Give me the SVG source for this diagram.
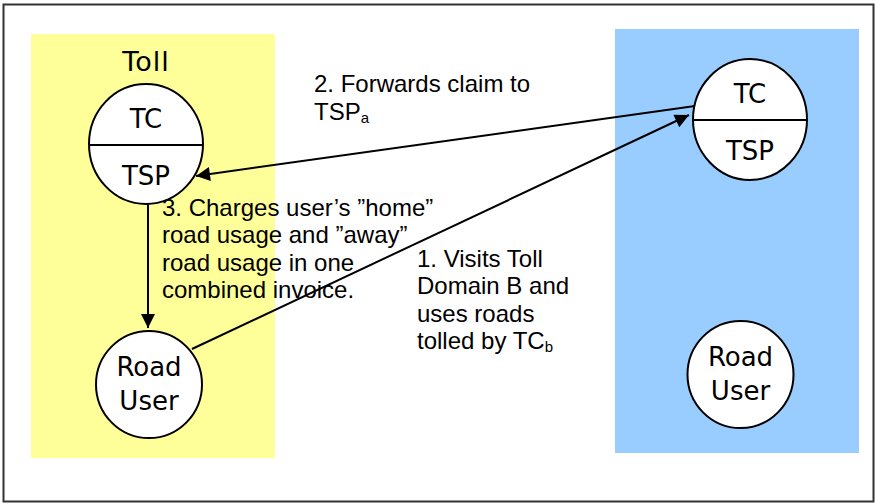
<svg xmlns="http://www.w3.org/2000/svg" width="875" height="504" viewBox="0 0 875 504">
  <style>
    .node { fill: #ffffff; stroke: #000000; stroke-width: 2; }
    .divider { stroke: #000000; stroke-width: 2; }
    .ntext { font-family: "DejaVu Sans", Verdana, sans-serif; font-size: 26px; fill: #000000; text-anchor: middle; }
    .title { font-size: 27px; letter-spacing: 1px; }
    .label { font-family: "Liberation Sans", Arial, sans-serif; font-size: 24px; fill: #000000; }
    .sub { font-size: 15px; }
    .edge { stroke: #000000; stroke-width: 2; fill: none; marker-end: url(#arrow); }
  </style>
  <defs>
    <marker id="arrow" viewBox="0 0 10 10" refX="10" refY="5" markerWidth="8" markerHeight="7" markerUnits="strokeWidth" orient="auto">
      <path d="M0,0 L10,5 L0,10 Z" fill="#000000"/>
    </marker>
  </defs>

  <!-- frame and domain backgrounds -->
  <rect x="3.5" y="4.5" width="870" height="497" fill="#ffffff" stroke="#333333" stroke-width="2"/>
  <rect x="31" y="34" width="244" height="424" fill="#ffff99"/>
  <rect x="615" y="29" width="244" height="424" fill="#99ccff"/>

  <text class="ntext title" x="146" y="71">Toll</text>

  <!-- connectors -->
  <g id="connectors">
    <line class="edge" x1="695" y1="106" x2="196" y2="176"/>
    <line class="edge" x1="192" y1="349" x2="689" y2="115"/>
    <line class="edge" x1="148" y1="204" x2="148" y2="328"/>
  </g>

  <!-- home domain nodes -->
  <g id="home-tc-tsp">
    <ellipse class="node" cx="146" cy="144" rx="57" ry="60"/>
    <line class="divider" x1="89" y1="145" x2="203" y2="145"/>
    <text class="ntext" x="146" y="128">TC</text>
    <text class="ntext" x="146" y="185">TSP</text>
  </g>
  <g id="home-road-user">
    <ellipse class="node" cx="149" cy="384.5" rx="53" ry="53.5"/>
    <text class="ntext" x="149" y="376">Road</text>
    <text class="ntext" x="149" y="410">User</text>
  </g>

  <!-- visited domain nodes -->
  <g id="away-tc-tsp">
    <ellipse class="node" cx="750" cy="119.5" rx="57" ry="60.5"/>
    <line class="divider" x1="693" y1="120" x2="807" y2="120"/>
    <text class="ntext" x="750" y="103">TC</text>
    <text class="ntext" x="750" y="160">TSP</text>
  </g>
  <g id="away-road-user">
    <ellipse class="node" cx="740.5" cy="374.5" rx="53" ry="53.5"/>
    <text class="ntext" x="740.5" y="366">Road</text>
    <text class="ntext" x="740.5" y="400">User</text>
  </g>

  <!-- step labels -->
  <g id="label-2">
    <text class="label" x="314" y="92">2. Forwards claim to</text>
    <text class="label" x="314" y="120">TSP<tspan class="sub" dy="3">a</tspan></text>
  </g>
  <g id="label-3">
    <text class="label" x="162" y="216">3. Charges user’s ”home”</text>
    <text class="label" x="162" y="243">road usage and ”away”</text>
    <text class="label" x="162" y="271">road usage in one</text>
    <text class="label" x="162" y="298">combined invoice.</text>
  </g>
  <g id="label-1">
    <text class="label" x="417" y="267">1. Visits Toll</text>
    <text class="label" x="417" y="294">Domain B and</text>
    <text class="label" x="417" y="322">uses roads</text>
    <text class="label" x="417" y="349">tolled by TC<tspan class="sub" dy="3">b</tspan></text>
  </g>
</svg>
